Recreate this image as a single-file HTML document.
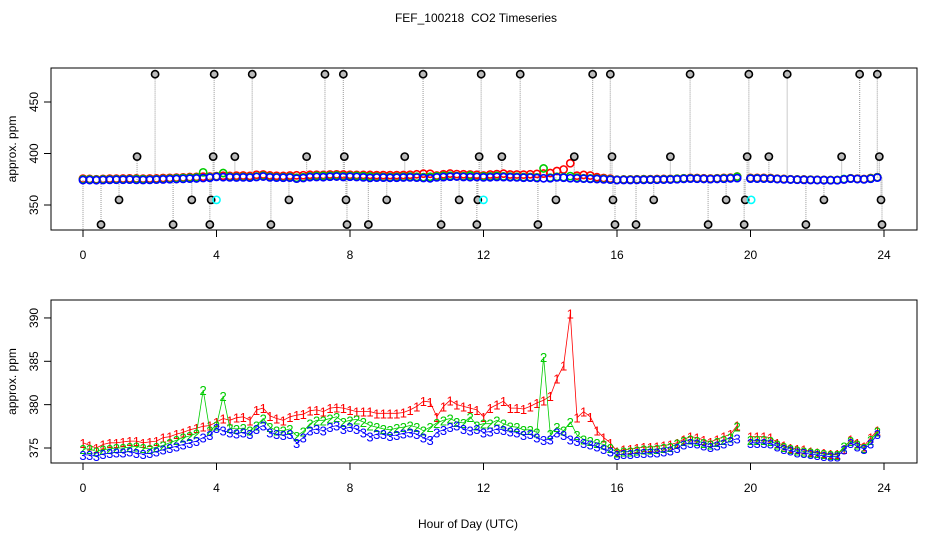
<!DOCTYPE html>
<html><head><meta charset="utf-8"><style>
body{margin:0;background:#fff}
svg text{font-family:"Liberation Sans",sans-serif}
</style></head><body>
<svg id="c" width="936" height="540" xmlns="http://www.w3.org/2000/svg">
<text x="476" y="22" font-size="12" text-anchor="middle">FEF_100218&#160; CO2 Timeseries</text>
<text x="468" y="528" font-size="12" text-anchor="middle">Hour of Day (UTC)</text>
<g id="topPanel"></g>
<g id="botPanel"></g>
</svg>
<script>
const hourStep = 0.2;
const xTicks = [0,4,8,12,16,20,24];
const topYTicks = [350,400,450];
const botYTicks = [375,380,385,390];
const s1 = [375.6,375.3,375.0,375.4,375.6,375.6,375.7,375.8,375.8,375.6,375.7,
375.8,376.2,376.3,376.6,376.8,377.1,377.3,377.5,377.6,
378.0,378.4,378.2,378.5,378.6,378.2,379.4,379.6,378.7,378.4,
378.2,378.6,378.8,378.9,379.3,379.4,379.2,379.6,379.7,379.6,
379.4,379.2,379.2,379.2,379.0,379.0,379.0,379.0,379.1,379.4,
379.8,380.4,380.3,378.6,379.8,380.5,380.0,379.8,379.6,379.4,
378.6,379.6,380.0,380.4,379.6,379.6,379.5,379.8,380.2,380.5,
381.0,383.0,384.5,390.5,378.5,379.2,378.6,377.0,376.2,375.6,
374.6,374.8,374.9,375.0,375.1,375.1,375.2,375.3,375.4,375.6,
376.0,376.3,376.2,375.9,375.7,376.0,376.3,376.6,377.6,null,
376.3,376.3,376.3,376.2,375.6,375.3,375.0,374.9,374.8,374.6,
374.5,374.4,374.3,374.3,374.9,376.0,375.6,375.2,376.2,377.0];
const s2 = [374.9,374.9,374.6,374.8,374.9,375.0,375.0,375.1,375.2,375.0,374.9,
375.1,375.3,375.6,375.9,376.2,376.4,376.7,381.7,377.0,
377.6,381.0,377.3,377.2,377.3,377.0,377.6,378.4,377.4,377.0,
377.0,377.2,376.4,376.9,377.8,378.2,378.2,378.4,378.6,378.0,
378.2,378.3,378.0,377.6,377.4,377.2,377.1,377.3,377.4,377.6,
377.4,377.0,377.4,377.9,378.2,378.4,378.0,377.9,378.6,377.6,
377.8,377.8,378.2,377.8,377.5,377.4,377.1,377.1,376.8,385.5,
376.6,377.4,377.0,378.0,376.5,376.0,375.8,375.6,375.4,375.0,
374.5,374.6,374.6,374.7,374.8,374.8,374.9,375.0,375.1,375.5,
375.8,376.0,375.8,375.6,375.4,375.7,375.9,376.2,377.5,null,
375.9,375.9,375.9,375.8,375.4,375.1,374.9,374.7,374.6,374.5,
374.4,374.3,374.2,374.2,375.2,375.8,375.4,375.0,375.9,376.9];
const s3 = [374.2,374.2,374.1,374.3,374.4,374.5,374.5,374.6,374.4,374.3,374.4,
374.6,374.8,375.0,375.2,375.4,375.6,375.8,376.2,376.5,
377.3,377.0,376.8,376.7,376.8,376.6,377.2,377.6,376.8,376.6,
376.5,376.6,375.6,376.2,377.0,377.2,377.0,377.4,377.6,377.2,
377.4,377.2,376.8,376.3,376.6,376.6,376.4,376.5,376.7,376.8,376.6,
376.2,375.9,376.8,377.1,377.4,377.6,377.2,377.0,377.2,
376.8,376.9,377.2,377.1,376.9,376.8,376.5,376.6,376.2,375.9,
376.0,376.8,376.5,376.0,375.8,375.6,375.4,375.2,374.9,374.6,
374.2,374.3,374.3,374.4,374.4,374.5,374.5,374.6,374.7,375.0,
375.4,375.6,375.5,375.3,375.1,375.3,375.5,375.8,376.1,null,
375.6,375.6,375.6,375.5,375.2,374.9,374.7,374.5,374.4,374.3,
374.2,374.1,374.0,374.0,374.8,375.6,375.2,374.9,375.5,376.6];
const outHours = [2.16,3.93,5.07,7.25,7.8,10.19,11.93,13.1,15.27,15.8,18.19,19.95,21.1,23.27,23.8,
1.62,3.9,4.55,6.7,7.83,9.64,11.87,12.55,14.72,15.85,17.6,19.9,20.55,22.73,23.86,
1.08,3.26,3.84,6.17,7.88,9.1,11.27,11.83,14.17,15.88,17.1,19.27,19.84,22.2,23.91,
0.0,0.54,2.7,3.8,5.63,7.91,8.55,10.73,11.8,13.63,15.94,16.57,18.73,19.81,21.66,23.94];
const outValues = [477,477,477,477,477,477,477,477,477,477,477,477,477,477,477,
397,397,397,397,397,397,397,397,397,397,397,397,397,397,397,
355,355,355,355,355,355,355,355,355,355,355,355,355,355,355,
322,331,331,331,331,331,331,331,331,331,331,331,331,331,331,331];
const cyanHours = [4.0,12.0,20.02];
const cyanValues = [355,355,355];

const NS="http://www.w3.org/2000/svg";
const xs = h => 83 + h*33.375;
const yTop = v => 205 - (v-350)*1.03;
const yBot = v => 448 - (v-375)*8.67;
function mk(tag, attrs, parent){const e=document.createElementNS(NS,tag);for(const k in attrs)e.setAttribute(k,attrs[k]);parent.appendChild(e);return e;}

function axes(g, y0, y1, ticks, yf, name){
  const box=mk('rect',{x:51,y:y0,width:866,height:y1-y0,fill:'none',stroke:'#000','stroke-width':1},g);
  
  
  xTicks.forEach(t=>{
    const l=mk('line',{x1:xs(t),x2:xs(t),y1:y1,y2:y1+7,stroke:'#000'},g);
    
    
    const tx=mk('text',{x:xs(t),y:y1+29,'font-size':12,'text-anchor':'middle'},g);tx.textContent=t;
    
    
  });
  ticks.forEach(t=>{
    const l=mk('line',{x1:44,x2:51,y1:yf(t),y2:yf(t),stroke:'#000'},g);
    
    
    const tx=mk('text',{x:0,y:0,'font-size':12,'text-anchor':'middle',transform:`translate(38,${yf(t)}) rotate(-90)`},g);tx.textContent=t;
    
    
  });
  const yl=mk('text',{x:0,y:0,'font-size':12,'text-anchor':'middle',transform:`translate(16,${(y0+y1)/2}) rotate(-90)`},g);yl.textContent='approx. ppm';
  
  
}
const gTop=document.getElementById('topPanel'), gBot=document.getElementById('botPanel');
axes(gTop,68,230,topYTicks,yTop,'top');
axes(gBot,300,463,botYTicks,yBot,'bottom');

outHours.forEach((h,i)=>{
  const base = s3[Math.min(119,Math.round(h/hourStep))] || 375;
  const l=mk('line',{x1:xs(h),x2:xs(h),y1:yTop(base),y2:Math.min(229,yTop(outValues[i])),stroke:'#aaa','stroke-width':1.2,'stroke-dasharray':'1,1'},gTop);
  
  
});
const series=[[s1,'#f00','1'],[s2,'#0c0','2'],[s3,'#00f','3']];
series.forEach(([arr,col,lab])=>{
  arr.forEach((v,i)=>{ if(v===null) return;
    const c=mk('circle',{cx:xs(i*hourStep),cy:yTop(v),r:3.6,fill:'none',stroke:col,'stroke-width':1.6},gTop);
    
    
  });
});
outHours.forEach((h,i)=>{
  if(outValues[i]<330) return;
  const c=mk('circle',{cx:xs(h),cy:yTop(outValues[i]),r:3.6,fill:'#bbb',stroke:'#000','stroke-width':1.6},gTop);
  
  
});
cyanHours.forEach((h,i)=>{
  const c=mk('circle',{cx:xs(h),cy:yTop(cyanValues[i]),r:3.6,fill:'none',stroke:'#0ff','stroke-width':1.6},gTop);
  
  
});

series.forEach(([arr,col,lab])=>{
  let d='';let pen=false;
  arr.forEach((v,i)=>{ if(v===null){pen=false;return;} d+=(pen?'L':'M')+xs(i*hourStep).toFixed(1)+','+yBot(v).toFixed(1);pen=true;});
  const p=mk('path',{d:d,fill:'none',stroke:col,'stroke-width':0.8},gBot);
  
  
  arr.forEach((v,i)=>{ if(v===null) return;
    const t=mk('text',{x:xs(i*hourStep),y:yBot(v)+5,'font-size':13,fill:col,'text-anchor':'middle'},gBot);
    t.textContent=lab;
    
    
  });
});
</script>
</body></html>
